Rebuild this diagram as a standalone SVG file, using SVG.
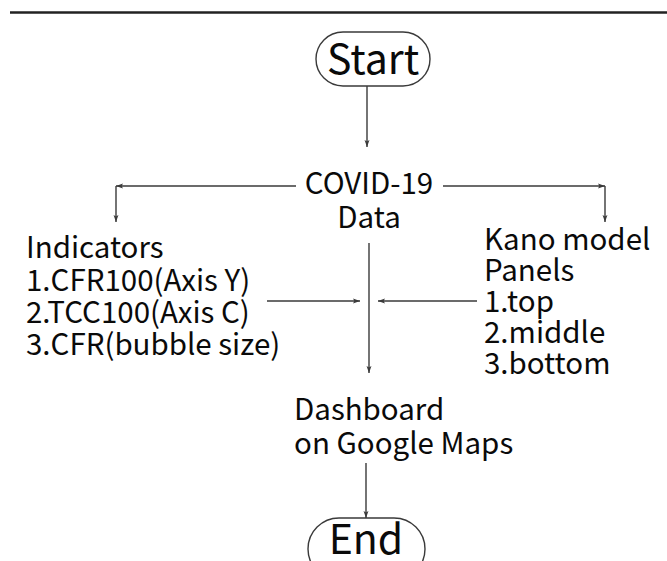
<svg xmlns="http://www.w3.org/2000/svg" width="667" height="561" viewBox="0 0 667 561">
  <style>
    text { font-family: "Noto Sans CJK TC", "Noto Sans", sans-serif; fill: #0a0a0a; font-weight: 400; }
    .lbl { font-size: 29.5px; }
    .big { font-size: 41px; }
    .ln { stroke: #3a3a3a; stroke-width: 1.4; fill: none; }
    .pill { fill: #fff; stroke: #3a3a3a; stroke-width: 1.4; }
  </style>
  <defs>
    <marker id="arr" viewBox="0 0 10 10" refX="10" refY="5" markerWidth="8" markerHeight="7" orient="auto" markerUnits="userSpaceOnUse">
      <path d="M0,1.5 L10,5 L0,8.5 L2,5 Z" fill="#3a3a3a"/>
    </marker>
  </defs>
  <rect width="667" height="561" fill="#fff"/>
  <!-- rule across the top -->
  <line x1="10" y1="12.5" x2="667" y2="12.5" stroke="#222" stroke-width="2.5"/>

  <g id="connectors">
    <line class="ln" x1="367" y1="86" x2="367" y2="147" marker-end="url(#arr)"/>
    <line class="ln" x1="296" y1="186" x2="116" y2="186" marker-end="url(#arr)"/>
    <line class="ln" x1="116" y1="186" x2="116" y2="222" marker-end="url(#arr)"/>
    <line class="ln" x1="443" y1="186" x2="605" y2="186" marker-end="url(#arr)"/>
    <line class="ln" x1="605" y1="186" x2="605" y2="222" marker-end="url(#arr)"/>
    <line class="ln" x1="369" y1="243" x2="369" y2="373" marker-end="url(#arr)"/>
    <line class="ln" x1="267" y1="301" x2="360" y2="301" marker-end="url(#arr)"/>
    <line class="ln" x1="477" y1="301" x2="378" y2="301" marker-end="url(#arr)"/>
    <line class="ln" x1="366" y1="463" x2="366" y2="518" marker-end="url(#arr)"/>
  </g>

  <g id="start">
    <rect class="pill" x="316" y="32" width="114" height="54" rx="27"/>
    <text class="big" x="373" y="74" text-anchor="middle">Start</text>
  </g>

  <g id="data">
    <text class="lbl" x="369" y="194" text-anchor="middle">COVID-19</text>
    <text class="lbl" x="369" y="228" text-anchor="middle">Data</text>
  </g>

  <g id="indicators">
    <text class="lbl" x="26" y="258">Indicators</text>
    <text class="lbl" x="26" y="291">1.CFR100(Axis Y)</text>
    <text class="lbl" x="26" y="323">2.TCC100(Axis C)</text>
    <text class="lbl" x="26" y="355">3.CFR(bubble size)</text>
  </g>

  <g id="kano">
    <text class="lbl" x="484" y="250">Kano model</text>
    <text class="lbl" x="484" y="281">Panels</text>
    <text class="lbl" x="484" y="312">1.top</text>
    <text class="lbl" x="484" y="343">2.middle</text>
    <text class="lbl" x="484" y="374">3.bottom</text>
  </g>

  <g id="dashboard">
    <text class="lbl" x="294" y="420">Dashboard</text>
    <text class="lbl" x="294" y="454">on Google Maps</text>
  </g>

  <g id="end">
    <rect class="pill" x="308" y="518" width="117" height="62" rx="31"/>
    <text class="big" x="366" y="554" text-anchor="middle">End</text>
  </g>
</svg>
